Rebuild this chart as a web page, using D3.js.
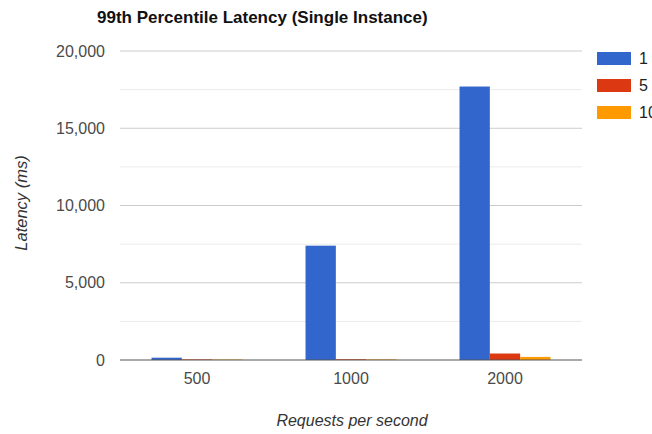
<!DOCTYPE html>
<html><head><meta charset="utf-8">
<script src="https://cdn.jsdelivr.net/npm/d3@7"></script>
<style>body{margin:0;background:#fff;} svg{display:block;font-family:Arial,"Liberation Sans",sans-serif;}</style>
</head><body>
<svg id="c" width="652" height="434"></svg>
<script>
const categories = ["500", "1000", "2000"];
const seriesNames = ["1", "5", "10"];
const series1 = [150, 7400, 17700];
const series5 = [40, 50, 420];
const series10 = [30, 40, 200];
const colors = ["#3366cc", "#dc3912", "#ff9900"];
const yTicks = [0, 5000, 10000, 15000, 20000];
const yMinor = [2500, 7500, 12500, 17500];

const svg = d3.select("#c");
const pL = 120, pR = 582, pT = 51, pB = 360;
const x0 = d3.scaleBand().domain(categories).range([pL, pR]).paddingInner(0).paddingOuter(0);
const x1 = d3.scaleBand().domain(seriesNames).range([0, x0.bandwidth()]).paddingInner(0).paddingOuter(1.04);
const y = d3.scaleLinear().domain([0, 20000]).range([pB, pT]);

// gridlines
svg.append("g").selectAll("line").data(yMinor).join("line")
  .attr("x1", pL).attr("x2", pR).attr("y1", d => y(d)).attr("y2", d => y(d))
  .attr("stroke", "#ebebeb").attr("stroke-width", 1);
svg.append("g").selectAll("line").data(yTicks.filter(d => d > 0)).join("line")
  .attr("x1", pL).attr("x2", pR).attr("y1", d => y(d)).attr("y2", d => y(d))
  .attr("stroke", "#cccccc").attr("stroke-width", 1);

// y tick labels
svg.append("g").selectAll("text").data(yTicks).join("text")
  .attr("x", 105).attr("y", d => y(d)).attr("dy", "0.35em")
  .attr("text-anchor", "end").attr("font-size", 16).attr("fill", "#4a4a4a")
  .text(d => d3.format(",")(d));

// bars
const data = [series1, series5, series10];
const groups = svg.append("g").selectAll("g").data(categories).join("g")
  .attr("transform", d => `translate(${x0(d)},0)`);
groups.selectAll("rect").data((c, i) => seriesNames.map((s, j) => ({s, v: data[j][i], j})))
  .join("rect")
  .attr("x", d => x1(d.s)).attr("width", x1.bandwidth())
  .attr("y", d => y(d.v)).attr("height", d => y(0) - y(d.v))
  .attr("fill", d => colors[d.j]);

// baseline
svg.append("line").attr("x1", pL).attr("x2", pR).attr("y1", y(0)).attr("y2", y(0))
  .attr("stroke", "#555").attr("stroke-width", 1.2);

// x tick labels
svg.append("g").selectAll("text").data(categories).join("text")
  .attr("x", d => x0(d) + x0.bandwidth() / 2).attr("y", 384)
  .attr("text-anchor", "middle").attr("font-size", 16).attr("fill", "#4a4a4a")
  .text(d => d);

// title
svg.append("text").attr("x", 97).attr("y", 23).attr("font-size", 17).attr("font-weight", "bold")
  .attr("fill", "#111").text("99th Percentile Latency (Single Instance)");

// axis titles
svg.append("text").attr("x", 352).attr("y", 426).attr("text-anchor", "middle")
  .attr("font-size", 16).attr("font-style", "italic").attr("fill", "#333").text("Requests per second");
svg.append("text").attr("transform", "translate(27,203) rotate(-90)").attr("text-anchor", "middle")
  .attr("font-size", 16.5).attr("font-style", "italic").attr("fill", "#333").text("Latency (ms)");

// legend
const lg = svg.append("g").selectAll("g").data(seriesNames).join("g")
  .attr("transform", (d, i) => `translate(597,${52 + i * 27})`);
lg.append("rect").attr("width", 34).attr("height", 13).attr("fill", (d, i) => colors[i]);
lg.append("text").attr("x", 42).attr("y", 6.5).attr("dy", "0.35em").attr("font-size", 16)
  .attr("fill", "#222").text(d => d);
</script>
</body></html>
